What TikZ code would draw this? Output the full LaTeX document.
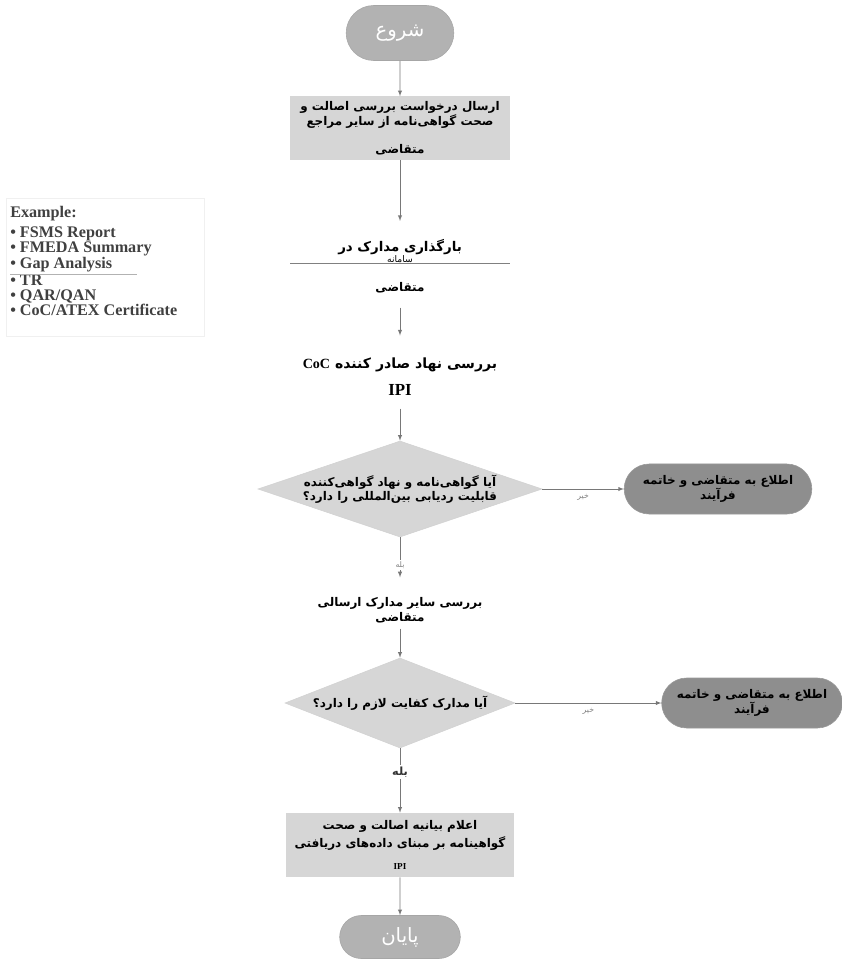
\documentclass[tikz,border=0pt]{standalone}
\usepackage{fontspec}
\setmainfont{Liberation Serif}
\newfontfamily\arabicfont[Script=Arabic]{DejaVu Sans}
\newfontfamily\latinfont{Liberation Serif}
\TeXXeTstate=1
\usetikzlibrary{arrows,shapes.geometric,shapes.misc}
\definecolor{termfill}{RGB}{178,178,178}
\definecolor{stopfill}{RGB}{142,142,142}
\definecolor{boxfill}{RGB}{214,214,214}
\definecolor{linegray}{RGB}{120,120,120}
\newcommand{\rl}[1]{\beginR #1\endR}

\begin{document}
\begin{tikzpicture}[
			x=0.025cm, y=-0.025cm,
			terminal/.style={rounded rectangle,draw=gray!70,fill=termfill,text=white,
			minimum width=2.925cm,minimum height=1.375cm,
			font=\arabicfont\fontsize{14}{16}\selectfont},
			task/.style={rectangle,fill=boxfill,align=center,inner sep=1pt,
			font=\arabicfont\bfseries\fontsize{8.5}{9.5}\selectfont},
			plain/.style={align=center,inner sep=1pt,
			font=\arabicfont\bfseries\fontsize{8.5}{10.5}\selectfont},
			decision/.style={diamond,fill=boxfill,draw=gray!35,align=center,inner sep=0pt,
			font=\arabicfont\bfseries\fontsize{8.5}{10}\selectfont},
			stopbox/.style={rounded rectangle,draw=gray!80,fill=stopfill,align=center,
			minimum width=4.925cm,minimum height=1.25cm,
			font=\arabicfont\bfseries\fontsize{8.5}{10}\selectfont},
			flow/.style={>=latex,draw=linegray,thin,->},
			no/.style={below,text=gray,font=\arabicfont\fontsize{5.5}{6}\selectfont},
			yes/.style={fill=white,text=gray,inner sep=1pt,font=\arabicfont\fontsize{5.5}{6}\selectfont},
			note/.style={align=left,inner sep=0pt,font=\latinfont\bfseries\fontsize{11.5}{10.4}\selectfont,text=black!75}
			]
			\useasboundingbox (0,0) rectangle (841,959);
			% legend
			\draw[gray!12] (6,198) rectangle (204,336);
			\node[note, anchor=north west] (ex1) at (10,206) {Example:\\[4pt]
				\textbullet\ FSMS Report\\ \textbullet\ FMEDA Summary\\ \textbullet\ Gap Analysis};
			\node[note, anchor=north west] (ex2) at (10,275) {\textbullet\ TR\\
				\textbullet\ QAR/QAN\\ \textbullet\ CoC/ATEX Certificate};
			\draw[gray!60] (ex2.north west) ++(0,-1) -- ++(127,0);
			% main flow
			\node[terminal] (start) at (400,33) {\rl{شروع}};
			\node[task, minimum width=5.5cm, minimum height=1.575cm] (req) at (400,128)
				{\rl{ارسال درخواست بررسی اصالت و}\\\rl{صحت گواهی‌نامه از سایر مراجع}\\[10pt]\rl{متقاضی}};
			\node[plain, font=\arabicfont\bfseries\fontsize{9.5}{10.5}\selectfont] (upl) at (400,251)
				{\rl{بارگذاری مدارک در}\\[-3pt]{\fontsize{6.5}{7}\selectfont\mdseries\rl{سامانه}}};
			\draw[gray] (290,263) -- (510,263);
			\node[plain] (upla) at (400,288) {\rl{متقاضی}};
			\node[plain, font=\arabicfont\bfseries\fontsize{10}{12}\selectfont] (rev) at (400,377)
				{\rl{بررسی نهاد صادر کننده {\beginL\latinfont CoC\endL}}\\[7pt]{\latinfont\fontsize{12}{12}\selectfont IPI}};
			\node[decision, aspect=3, minimum width=7.1cm, minimum height=2.4cm] (chk1) at (400,489)
				{\rl{آیا گواهی‌نامه و نهاد گواهی‌کننده}\\\rl{قابلیت ردیابی بین‌المللی را دارد؟}};
			\node[stopbox] (stop1) at (718,489) {\rl{اطلاع به متقاضی و خاتمه}\\\rl{فرآیند}};
			\node[plain] (oth) at (400,610) {\rl{بررسی سایر مدارک ارسالی}\\\rl{متقاضی}};
			\node[decision, aspect=2.5, minimum width=5.75cm, minimum height=2.25cm] (chk2) at (400,703)
				{\rl{آیا مدارک کفایت لازم را دارد؟}};
			\node[stopbox, minimum width=4.75cm] (stop2) at (752,703) {\rl{اطلاع به متقاضی و خاتمه}\\\rl{فرآیند}};
			\node[task, minimum width=5.7cm, minimum height=1.6cm] (decl) at (400,845)
				{\rl{اعلام بیانیه اصالت و صحت}\\[2pt]\rl{گواهینامه بر مبنای داده‌های دریافتی}\\[6pt]
				{\latinfont\fontsize{6.5}{7}\selectfont IPI}};
			\node[terminal, minimum width=3.25cm, minimum height=1.075cm] (fin) at (400,937) {\rl{پایان}};
			% connectors
			\draw[flow] (start) -- (req);
			\draw[flow, shorten >=12pt] (req) -- (upl);
			\draw[flow, shorten <=9pt, shorten >=15pt] (upla) -- (rev);
			\draw[flow, shorten <=8pt] (rev) -- (chk1);
			\draw[flow] (chk1) -- node[no] {\rl{خیر}} (stop1);
			\draw[flow, shorten >=13pt] (chk1) -- node[yes, pos=0.47] {\rl{بله}} (oth);
			\draw[flow, shorten <=3pt] (oth) -- (chk2);
			\draw[flow] (chk2) -- node[no] {\rl{خیر}} (stop2);
			\draw[flow] (chk2) -- node[yes, pos=0.37, text=black!80, font=\arabicfont\bfseries\fontsize{8}{9}\selectfont] {\rl{بله}} (decl);
			\draw[flow] (decl) -- (fin);
		\end{tikzpicture}
\end{document}
